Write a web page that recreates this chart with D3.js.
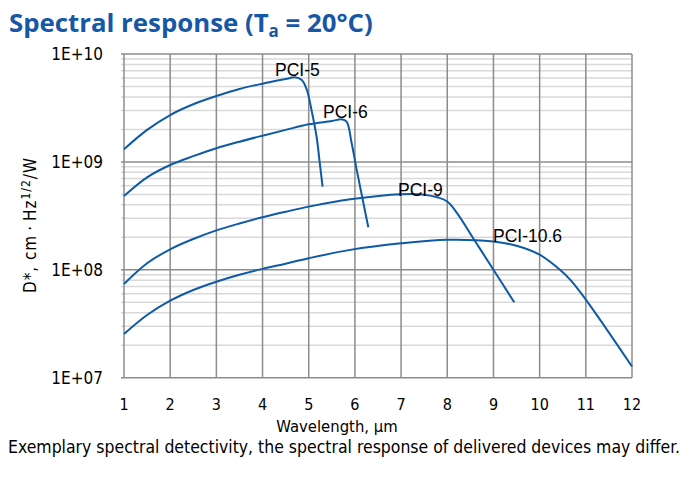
<!DOCTYPE html>
<html>
<head>
<meta charset="utf-8">
<script src="https://cdnjs.cloudflare.com/ajax/libs/d3/7.8.5/d3.min.js"></script>
<style>
body { margin: 0; background: #fff; }
svg { display: block; }
</style>
</head>
<body>
<svg id="chart" width="691" height="479"></svg>
<script>
// values (wavelength in um, D* in cm*Hz^1/2/W)
var pci5Wl = [1, 1.5, 2, 2.5, 3, 3.5, 4, 4.5, 4.7, 4.85, 4.96, 5.06, 5.17, 5.24, 5.3];
var pci5D  = [1.31e9, 1.98e9, 2.72e9, 3.42e9, 4.08e9, 4.74e9, 5.31e9, 5.86e9, 6.08e9, 5.74e9, 4.64e9, 3.03e9, 1.71e9, 9.7e8, 5.9e8];

var pci6Wl = [1, 1.5, 2, 2.5, 3, 3.5, 4, 4.5, 5, 5.5, 5.71, 5.82, 5.93, 6.04, 6.29];
var pci6D  = [4.83e8, 7.2e8, 9.36e8, 1.13e9, 1.34e9, 1.54e9, 1.75e9, 1.98e9, 2.23e9, 2.39e9, 2.48e9, 2.36e9, 1.49e9, 8.4e8, 2.48e8];

var pci9Wl = [1, 1.5, 2, 2.5, 3, 3.5, 4, 4.5, 5, 5.9, 7, 7.5, 7.8, 8, 8.2, 8.6, 9, 9.45];
var pci9D  = [7.38e7, 1.15e8, 1.55e8, 1.93e8, 2.32e8, 2.69e8, 3.07e8, 3.45e8, 3.85e8, 4.5e8, 5.02e8, 4.97e8, 4.68e8, 4.29e8, 3.41e8, 1.85e8, 1.0e8, 5.0e7];

var pci106Wl = [1, 1.5, 2, 2.5, 3, 3.5, 4, 4.5, 5, 5.9, 7, 8, 9, 9.5, 10, 10.44, 10.66, 11, 12];
var pci106D  = [2.54e7, 3.81e7, 5.17e7, 6.5e7, 7.76e7, 9.0e7, 1.02e8, 1.14e8, 1.28e8, 1.53e8, 1.76e8, 1.9e8, 1.83e8, 1.67e8, 1.38e8, 1.0e8, 8.1e7, 5.3e7, 1.27e7];

var seriesNames = ["PCI-5", "PCI-6", "PCI-9", "PCI-10.6"];
var xTicks = [1, 2, 3, 4, 5, 6, 7, 8, 9, 10, 11, 12];
var yTicks = [1e7, 1e8, 1e9, 1e10];
var yTickLabels = ["1E+07", "1E+08", "1E+09", "1E+10"];

var series = [
  { name: seriesNames[0], wl: pci5Wl, d: pci5D, lx: 275, ly: 76 },
  { name: seriesNames[1], wl: pci6Wl, d: pci6D, lx: 323, ly: 118 },
  { name: seriesNames[2], wl: pci9Wl, d: pci9D, lx: 398, ly: 196 },
  { name: seriesNames[3], wl: pci106Wl, d: pci106D, lx: 493, ly: 242 }
];

var lineColor = "#0e5aa7";
var tickFont = "'DejaVu Sans Condensed', 'Liberation Sans', sans-serif";

var svg = d3.select("#chart");

var x = d3.scaleLinear().domain([1, 12]).range([124, 632]);
var y = d3.scaleLog().domain([1e7, 1e10]).range([377.7, 54]);

// minor horizontal grid
var minor = [];
[1e7, 1e8, 1e9].forEach(function(dec) {
  for (var k = 2; k <= 9; k++) minor.push(dec * k);
});
svg.append("g").selectAll("line")
  .data(minor).enter().append("line")
    .attr("x1", x(1) - 3).attr("x2", x(12))
    .attr("y1", function(d) { return y(d); })
    .attr("y2", function(d) { return y(d); })
    .attr("stroke", "#d9d9d9")
    .attr("stroke-width", 1.5);

// vertical grid
svg.append("g").selectAll("line")
  .data(xTicks).enter().append("line")
    .attr("x1", function(d) { return x(d); })
    .attr("x2", function(d) { return x(d); })
    .attr("y1", y(1e10)).attr("y2", y(1e7))
    .attr("stroke", "#8c8c8c")
    .attr("stroke-width", 1.5);

// major horizontal grid
svg.append("g").selectAll("line")
  .data(yTicks).enter().append("line")
    .attr("x1", x(1) - 3).attr("x2", x(12))
    .attr("y1", function(d) { return y(d); })
    .attr("y2", function(d) { return y(d); })
    .attr("stroke", "#8c8c8c")
    .attr("stroke-width", 1.5);

// tick labels
svg.append("g").selectAll("text")
  .data(xTicks).enter().append("text")
    .attr("x", function(d) { return x(d); })
    .attr("y", 410)
    .attr("text-anchor", "middle")
    .attr("font-family", tickFont)
    .attr("font-size", 16)
    .attr("fill", "#000")
    .text(function(d) { return d; });

svg.append("g").selectAll("text")
  .data(yTicks).enter().append("text")
    .attr("x", 103)
    .attr("y", function(d) { return y(d) + 6.3; })
    .attr("text-anchor", "end")
    .attr("font-family", tickFont)
    .attr("font-size", 17)
    .attr("fill", "#000")
    .text(function(d, i) { return yTickLabels[i]; });

// curves
var line = d3.line()
  .x(function(p) { return x(p[0]); })
  .y(function(p) { return y(p[1]); })
  .curve(d3.curveCatmullRom.alpha(0.5));

svg.append("g").selectAll("path")
  .data(series).enter().append("path")
    .attr("d", function(s) { return line(d3.zip(s.wl, s.d)); })
    .attr("fill", "none")
    .attr("stroke", lineColor)
    .attr("stroke-width", 2);

svg.append("g").selectAll("text")
  .data(series).enter().append("text")
    .attr("x", function(s) { return s.lx; })
    .attr("y", function(s) { return s.ly; })
    .attr("font-family", "'Liberation Sans', sans-serif")
    .attr("font-size", 17.5)
    .attr("fill", "#000")
    .text(function(s) { return s.name; });

// axis titles
svg.append("text")
  .attr("x", 337)
  .attr("y", 432)
  .attr("text-anchor", "middle")
  .attr("font-family", tickFont)
  .attr("font-size", 16.5)
  .text("Wavelength, \u00b5m");

var yl = svg.append("text")
  .attr("transform", "translate(36,225) rotate(-90)")
  .attr("text-anchor", "middle")
  .attr("font-family", tickFont)
  .attr("font-size", 17);
yl.append("tspan").text("D*, cm\u2009\u00b7\u2009Hz");
yl.append("tspan").attr("font-size", 12).attr("dy", -6).text("1/2");
yl.append("tspan").attr("dy", 6).text("/W");
// stretch to the width seen in the reference
var ylLen = yl.node().getComputedTextLength();
var ylChars = yl.text().length;
if (ylLen < 136) yl.attr("letter-spacing", ((136 - ylLen) / ylChars).toFixed(2) + "px");

// title
var t = svg.append("text")
  .attr("x", 9)
  .attr("y", 32)
  .attr("font-family", "'Open Sans', sans-serif")
  .attr("font-weight", "bold")
  .attr("font-size", 25.8)
  .attr("fill", "#1657a6");
t.append("tspan").text("Spectral response (T");
t.append("tspan").attr("font-size", 17).attr("dy", 5).text("a");
t.append("tspan").attr("dy", -5).text(" = 20\u00b0C)");

// footer
svg.append("text")
  .attr("x", 8)
  .attr("y", 453)
  .attr("font-family", tickFont)
  .attr("font-size", 17)
  .attr("textLength", 672)
  .attr("lengthAdjust", "spacingAndGlyphs")
  .text("Exemplary spectral detectivity, the spectral response of delivered devices may differ.");
</script>
</body>
</html>
